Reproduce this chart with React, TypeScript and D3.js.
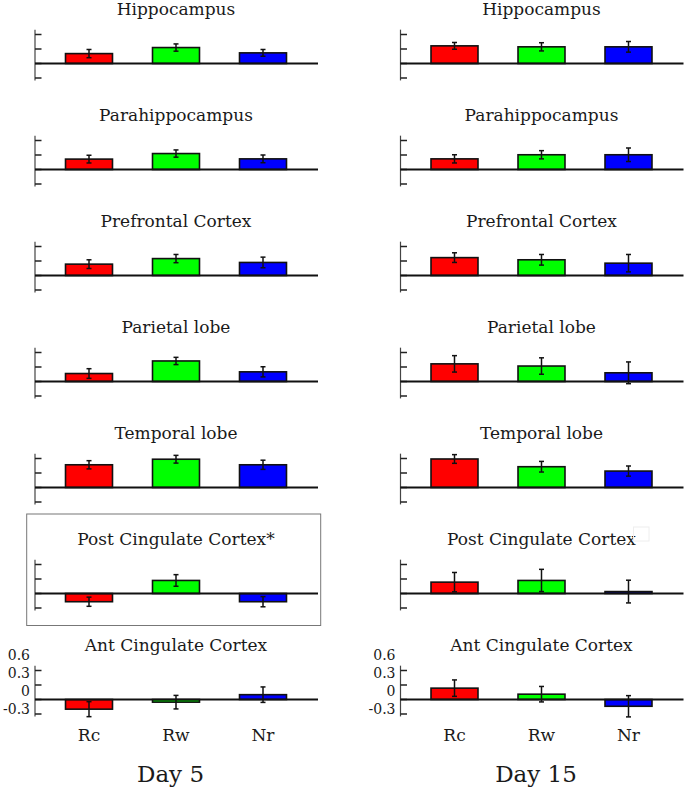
import React from 'react';
import * as d3 from 'd3';

const regions = ['Hippocampus', 'Parahippocampus', 'Prefrontal Cortex', 'Parietal lobe', 'Temporal lobe', 'Post Cingulate Cortex', 'Ant Cingulate Cortex'];
const conditions = ['Rc', 'Rw', 'Nr'];
const days = ['Day 5', 'Day 15'];
const colors = ['#ff0000', '#00ff00', '#0000ff'];
const yTicks = [-0.3, 0, 0.3, 0.6];
const yTickLabels = ['-0.3', '0', '0.3', '0.6'];

const day5Means = [
  [0.205, 0.33, 0.22],
  [0.215, 0.33, 0.22],
  [0.235, 0.35, 0.27],
  [0.165, 0.425, 0.2],
  [0.47, 0.585, 0.47],
  [-0.17, 0.27, -0.17],
  [-0.2, -0.055, 0.1],
];
const day5Err = [
  [0.085, 0.075, 0.07],
  [0.08, 0.075, 0.08],
  [0.09, 0.085, 0.11],
  [0.1, 0.075, 0.105],
  [0.085, 0.08, 0.095],
  [0.095, 0.12, 0.105],
  [0.155, 0.14, 0.16],
];
const day15Means = [
  [0.365, 0.345, 0.345],
  [0.22, 0.305, 0.305],
  [0.37, 0.325, 0.255],
  [0.365, 0.32, 0.18],
  [0.59, 0.43, 0.34],
  [0.235, 0.27, 0.04],
  [0.235, 0.11, -0.14],
];
const day15Err = [
  [0.07, 0.085, 0.11],
  [0.085, 0.085, 0.14],
  [0.1, 0.11, 0.18],
  [0.17, 0.17, 0.225],
  [0.09, 0.11, 0.105],
  [0.2, 0.23, 0.235],
  [0.17, 0.16, 0.22],
];
const dayMeans = [day5Means, day15Means];
const dayErr = [day5Err, day15Err];
const highlighted = [[5], []];

const W = 685;
const H = 788;
const FONT = '"DejaVu Serif", serif';
const colX = [35, 400.5];
const plotW = 283;
const zero0 = 63.5;
const rowStep = 106;

function Panel({ day, row }: { day: number; row: number }) {
  const ax = colX[day];
  const z = zero0 + rowStep * row;
  const y = d3.scaleLinear().domain([-0.3, 0.6]).range([z + 14.5, z - 29]);
  const x = d3.scaleBand().domain(conditions).range([ax + 10.5, ax + 271.5]).paddingInner(0.46).paddingOuter(0.23);
  const labelY = d3.scaleLinear().domain([-0.3, 0.6]).range([z + 10, z - 44]);
  const isHi = highlighted[day].includes(row);
  const title = regions[row] + (isHi ? '*' : '');
  const means = dayMeans[day][row];
  const errs = dayErr[day][row];
  const last = row === regions.length - 1;
  return (
    <g>
      {isHi && (
        <rect x={ax - 8.3} y={z - 79.5} width={294} height={111.5} fill="none" stroke="#777" strokeWidth={1} />
      )}
      <text x={ax + plotW / 2 - 0.5} y={z - 48.3} textAnchor="middle" fontFamily={FONT} fontSize={17} fill="#1a1a1a">
        {title}
      </text>
      <line x1={ax} x2={ax} y1={y(0.7)} y2={y(-0.35)} stroke="#444" strokeWidth={1.2} />
      {yTicks.map((t) => (
        <line key={t} x1={ax} x2={ax + 6.5} y1={y(t)} y2={y(t)} stroke="#222" strokeWidth={1.5} />
      ))}
      {last &&
        yTicks.map((t, i) => (
          <text key={'l' + t} x={ax - 5} y={labelY(t)} dy="0.35em" textAnchor="end" fontFamily={FONT} fontSize={14} fill="#1a1a1a">
            {yTickLabels[i]}
          </text>
        ))}
      {conditions.map((c, i) => {
        const v = means[i];
        const top = Math.min(y(v), y(0));
        const h = Math.abs(y(v) - y(0));
        return (
          <rect key={c} x={x(c)} y={top} width={x.bandwidth()} height={h} fill={colors[i]} stroke="#111" strokeWidth={1.6} />
        );
      })}
      <line x1={ax} x2={ax + plotW} y1={y(0)} y2={y(0)} stroke="#111" strokeWidth={1.8} />
      {conditions.map((c, i) => {
        const v = means[i];
        const e = errs[i];
        const cx = (x(c) as number) + x.bandwidth() / 2;
        return (
          <g key={'e' + c} stroke="#111" strokeWidth={1.5}>
            <line x1={cx} x2={cx} y1={y(v + e)} y2={y(v - e)} />
            <line x1={cx - 2.5} x2={cx + 2.5} y1={y(v + e)} y2={y(v + e)} />
            <line x1={cx - 2.5} x2={cx + 2.5} y1={y(v - e)} y2={y(v - e)} />
          </g>
        );
      })}
      {last &&
        conditions.map((c) => (
          <text key={'c' + c} x={(x(c) as number) + x.bandwidth() / 2} y={z + 41} textAnchor="middle" fontFamily={FONT} fontSize={17} fill="#1a1a1a">
            {c}
          </text>
        ))}
    </g>
  );
}

export default function App() {
  return (
    <svg width={W} height={H} style={{ position: 'absolute', left: 0, top: 0, background: '#fff' }}>
      <rect x={0} y={0} width={W} height={H} fill="#fff" />
      {days.map((d, di) =>
        regions.map((r, ri) => <Panel key={d + r} day={di} row={ri} />)
      )}
      <rect x={633.5} y={527} width={15.5} height={14} fill="none" stroke="#eeeeee" strokeWidth={1} />
      {days.map((d, di) => (
        <text key={d} x={colX[di] + plotW / 2 - 6} y={782} textAnchor="middle" fontFamily={FONT} fontSize={23} fill="#1a1a1a">
          {d}
        </text>
      ))}
    </svg>
  );
}
